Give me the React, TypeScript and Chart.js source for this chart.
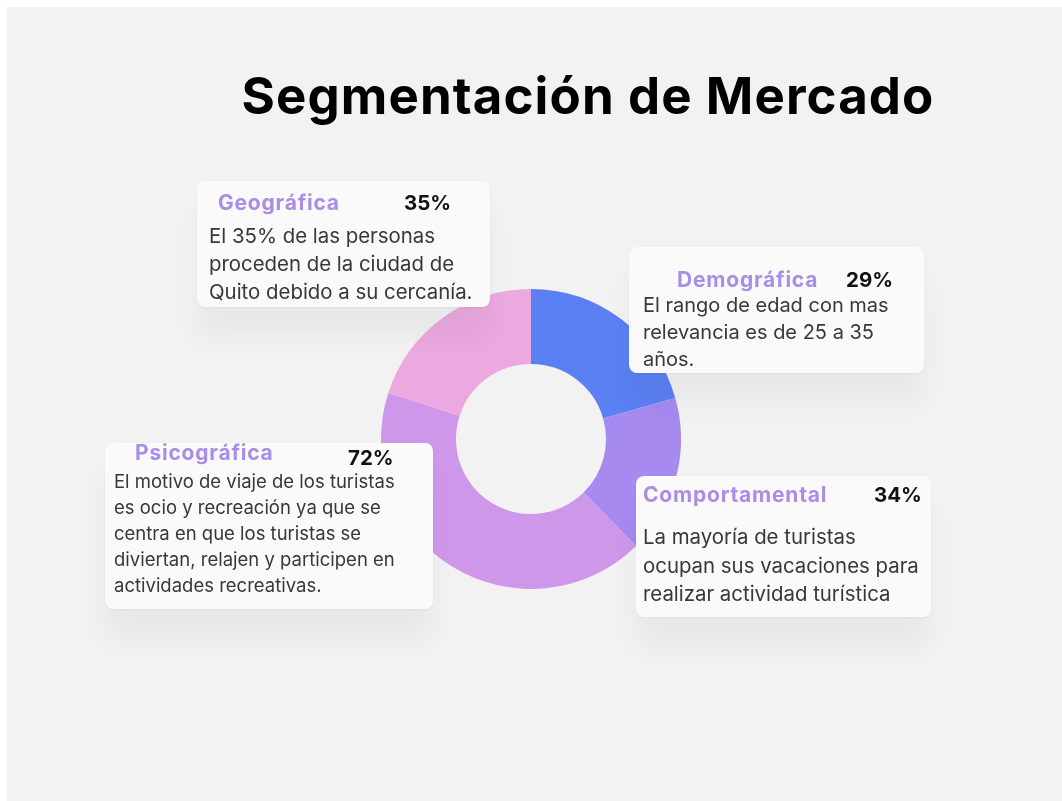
import React, { useEffect, useRef } from "react";
import { Chart, registerables } from "chart.js";

Chart.register(...registerables);

// ---- Data ----
const sliceLabels = ["Demográfica", "Comportamental", "Psicográfica", "Geográfica"];
const sliceValues = [35, 29, 72, 34];
const sliceColors = ["#5b80f4", "#a68af0", "#cf97ea", "#eba9df"];

const cardTitles = ["Geográfica", "Demográfica", "Psicográfica", "Comportamental"];
const cardPercents = ["35%", "29%", "72%", "34%"];
const cardBodies = [
  ["El 35% de las personas", "proceden de la ciudad de", "Quito debido a su cercanía."],
  ["El rango de edad con mas", "relevancia es de 25 a 35", "años."],
  [
    "El motivo de viaje de los turistas",
    "es ocio y recreación ya que se",
    "centra en que los turistas se",
    "diviertan, relajen y participen en",
    "actividades recreativas.",
  ],
  ["La mayoría de turistas", "ocupan sus vacaciones para", "realizar actividad turística"],
];

const titleText = "Segmentación de Mercado";

// ---- Layout (page coordinates) ----
type CardLayout = {
  left: number; top: number; width: number; height: number;
  titleX: number; titleY: number; pctX: number; pctY: number;
  bodyX: number; bodyY: number; lineH: number; bodySize: number;
};
const cardLayouts: CardLayout[] = [
  { left: 197, top: 181, width: 293, height: 126, titleX: 218, titleY: 203, pctX: 404, pctY: 203, bodyX: 209, bodyY: 222, lineH: 28, bodySize: 20.4 },
  { left: 629, top: 247, width: 295, height: 126, titleX: 677, titleY: 280, pctX: 846, pctY: 280, bodyX: 643, bodyY: 292, lineH: 27, bodySize: 20 },
  { left: 105, top: 443, width: 328, height: 166, titleX: 135, titleY: 453, pctX: 348, pctY: 458, bodyX: 114, bodyY: 468, lineH: 26, bodySize: 18.5 },
  { left: 636, top: 476, width: 295, height: 141, titleX: 643, titleY: 495, pctX: 874, pctY: 495, bodyX: 643, bodyY: 523, lineH: 28.5, bodySize: 20.4 },
];

const donutCX = 531;
const donutCY = 439;
const donutR = 150;

const FONT = "Inter, 'Noto Sans', sans-serif";

export default function App() {
  const canvasRef = useRef<HTMLCanvasElement | null>(null);

  useEffect(() => {
    if (!canvasRef.current) return;
    const chart = new Chart(canvasRef.current, {
      type: "doughnut",
      data: {
        labels: sliceLabels,
        datasets: [
          {
            data: sliceValues,
            backgroundColor: sliceColors,
            borderWidth: 0,
          },
        ],
      },
      options: {
        responsive: false,
        maintainAspectRatio: false,
        animation: false,
        cutout: "50%",
        layout: { padding: 0 },
        plugins: {
          legend: { display: false },
          tooltip: { enabled: false },
        },
      },
    });
    return () => chart.destroy();
  }, []);

  return (
    <div style={{ position: "fixed", left: 0, top: 0, width: 1062, height: 801, background: "#ffffff", overflow: "hidden" }}>
      <div style={{ position: "absolute", left: 7, top: 7, right: 0, bottom: 0, background: "#f2f2f2" }} />
      <div
        style={{
          position: "absolute",
          left: 588 - 400,
          width: 800,
          top: 66,
          textAlign: "center",
          fontFamily: FONT,
          fontWeight: 700,
          fontSize: 51,
          lineHeight: "60px",
          color: "#000",
          letterSpacing: 1.1,
          whiteSpace: "nowrap",
        }}
      >
        {titleText}
      </div>
      <canvas
        ref={canvasRef}
        width={donutR * 2}
        height={donutR * 2}
        style={{ position: "absolute", left: donutCX - donutR, top: donutCY - donutR, width: donutR * 2, height: donutR * 2 }}
      />
      {cardLayouts.map((c, i) => (
        <React.Fragment key={i}>
          <div
            style={{
              position: "absolute",
              left: c.left,
              top: c.top,
              width: c.width,
              height: c.height,
              background: "#fafafa",
              borderRadius: 8,
              boxShadow: "0 30px 28px rgba(0,0,0,0.045), 0 1px 3px rgba(0,0,0,0.05)",
            }}
          />
          <div
            style={{
              position: "absolute",
              left: c.titleX,
              top: c.titleY - 14,
              height: 28,
              lineHeight: "28px",
              fontFamily: FONT,
              fontWeight: 700,
              fontSize: 21,
              letterSpacing: 0.8,
              color: "#a98de8",
              whiteSpace: "nowrap",
            }}
          >
            {cardTitles[i]}
          </div>
          <div
            style={{
              position: "absolute",
              left: c.pctX,
              top: c.pctY - 14,
              height: 28,
              lineHeight: "28px",
              fontFamily: FONT,
              fontWeight: 700,
              fontSize: 20.5,
              color: "#111",
              whiteSpace: "nowrap",
            }}
          >
            {cardPercents[i]}
          </div>
          <div
            style={{
              position: "absolute",
              left: c.bodyX,
              top: c.bodyY,
              fontFamily: FONT,
              fontSize: c.bodySize,
              lineHeight: c.lineH + "px",
              color: "#383838",
              whiteSpace: "nowrap",
            }}
          >
            {cardBodies[i].map((line, j) => (
              <div key={j}>{line}</div>
            ))}
          </div>
        </React.Fragment>
      ))}
    </div>
  );
}
